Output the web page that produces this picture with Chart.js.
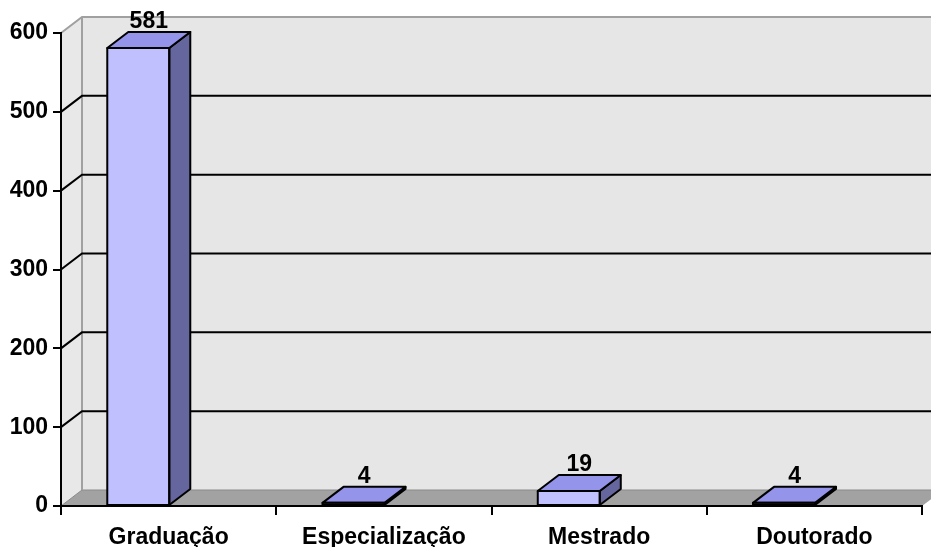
<!DOCTYPE html>
<html>
<head>
<meta charset="utf-8">
<script src="https://cdn.jsdelivr.net/npm/chart.js@4.4.1/dist/chart.umd.min.js"></script>
<style>
  html, body { margin: 0; padding: 0; background: #ffffff; }
  #wrap { width: 931px; height: 547px; }
</style>
</head>
<body>
<div id="wrap"><canvas id="chart" width="931" height="547"></canvas></div>
<script>
// Degree level counts
const categories = ['Graduação', 'Especialização', 'Mestrado', 'Doutorado'];
const counts = [581, 4, 19, 4];
const yTicks = [0, 100, 200, 300, 400, 500, 600];

// Perspective depth of the walls and columns (pixels)
const DX = 21;
const DY = -16;
// Columns sit a little left of the category centre, as in the classic 3-D column look
const BAR_SHIFT = -0.141;

const FONT = '"Liberation Sans", Arial, Helvetica, sans-serif';
const LABEL_FONT = { family: FONT, size: 23, weight: 'bold' };

function poly(ctx, pts) {
  ctx.beginPath();
  ctx.moveTo(pts[0][0], pts[0][1]);
  for (let i = 1; i < pts.length; i++) ctx.lineTo(pts[i][0], pts[i][1]);
  ctx.closePath();
}

function line(ctx, pts) {
  ctx.beginPath();
  ctx.moveTo(pts[0][0], pts[0][1]);
  for (let i = 1; i < pts.length; i++) ctx.lineTo(pts[i][0], pts[i][1]);
  ctx.stroke();
}

const depthPlugin = {
  id: 'depth3d',
  beforeDraw(chart) {
    const { ctx, chartArea: a } = chart;
    const y = chart.scales.y;
    const L = a.left, R = a.right;
    const T = y.getPixelForValue(yTicks[yTicks.length - 1]);
    const B = y.getPixelForValue(yTicks[0]);
    ctx.save();
    // back wall
    ctx.fillStyle = '#e6e6e6';
    ctx.fillRect(L + DX, T + DY, R - L, B - T);
    // side wall
    ctx.fillStyle = '#e8e8e8';
    poly(ctx, [[L, T], [L + DX, T + DY], [L + DX, B + DY], [L, B]]);
    ctx.fill();
    // floor
    ctx.fillStyle = '#a2a2a2';
    poly(ctx, [[L, B], [R, B], [R + DX, B + DY], [L + DX, B + DY]]);
    ctx.fill();
    ctx.lineWidth = 1;
    ctx.strokeStyle = '#8a8a8a';
    line(ctx, [[L, B], [L + DX, B + DY], [R + DX, B + DY]]);
    // wall edges
    ctx.lineWidth = 2;
    ctx.strokeStyle = '#a0a0a0';
    line(ctx, [[L, T], [L + DX, T + DY], [R + DX, T + DY]]);
    line(ctx, [[L + DX, T + DY], [L + DX, B + DY]]);
    // gridlines across side wall and back wall
    ctx.strokeStyle = '#000000';
    for (let i = 1; i < yTicks.length - 1; i++) {
      const py = y.getPixelForValue(yTicks[i]);
      line(ctx, [[L, py], [L + DX, py + DY], [R + DX, py + DY]]);
    }
    ctx.restore();
  },
  afterDatasetsDraw(chart) {
    const { ctx } = chart;
    const meta = chart.getDatasetMeta(0);
    ctx.save();
    ctx.lineWidth = 2;
    ctx.lineJoin = 'round';
    ctx.strokeStyle = '#000000';
    meta.data.forEach((bar, i) => {
      const p = bar.getProps(['x', 'y', 'base', 'width'], true);
      const l = p.x - p.width / 2, r = p.x + p.width / 2;
      const top = p.y, base = p.base;
      // side face
      ctx.fillStyle = '#66669f';
      poly(ctx, [[r, top], [r + DX, top + DY], [r + DX, base + DY], [r, base]]);
      ctx.fill(); ctx.stroke();
      // top face
      ctx.fillStyle = '#9494ea';
      poly(ctx, [[l, top], [r, top], [r + DX, top + DY], [l + DX, top + DY]]);
      ctx.fill(); ctx.stroke();
      // front outline
      ctx.strokeRect(l, top, r - l, base - top);
      // value label
      ctx.fillStyle = '#000000';
      ctx.font = 'bold 23px ' + FONT;
      ctx.textAlign = 'center';
      ctx.textBaseline = 'alphabetic';
      ctx.fillText(String(counts[i]), p.x + DX / 2, top + DY - 4);
    });
    ctx.restore();
  }
};

new Chart(document.getElementById('chart'), {
  type: 'bar',
  data: {
    labels: categories,
    datasets: [{
      data: counts.map((v, i) => ({ x: i + 0.5 + BAR_SHIFT, y: v })),
      xAxisID: 'xb',
      yAxisID: 'y',
      backgroundColor: '#c0c0ff',
      borderColor: '#000000',
      borderWidth: 0,
      barThickness: 62
    }]
  },
  options: {
    responsive: false,
    animation: false,
    devicePixelRatio: 1,
    layout: { padding: { top: 33, right: 9, left: 0, bottom: 0 } },
    plugins: { legend: { display: false }, tooltip: { enabled: false } },
    scales: {
      x: {
        type: 'category',
        offset: true,
        grid: { offset: true, drawOnChartArea: false, drawTicks: true, tickLength: 9, color: '#000000', lineWidth: 2 },
        border: { display: true, color: '#000000', width: 2 },
        ticks: { color: '#000000', font: LABEL_FONT, padding: 9, maxRotation: 0, autoSkip: false },
        afterFit(scale) { scale.height = 41; }
      },
      xb: {
        type: 'linear',
        display: false,
        offset: false,
        bounds: 'ticks',
        grace: 0,
        min: 0,
        max: categories.length
      },
      y: {
        type: 'linear',
        min: yTicks[0],
        max: yTicks[yTicks.length - 1],
        ticks: { stepSize: yTicks[1] - yTicks[0], color: '#000000', font: LABEL_FONT, padding: 5 },
        grid: { drawOnChartArea: false, drawTicks: true, tickLength: 8, color: '#000000', lineWidth: 2 },
        border: { display: true, color: '#000000', width: 2 },
        afterFit(scale) { scale.width = 61; }
      }
    }
  },
  plugins: [depthPlugin]
});
</script>
</body>
</html>
